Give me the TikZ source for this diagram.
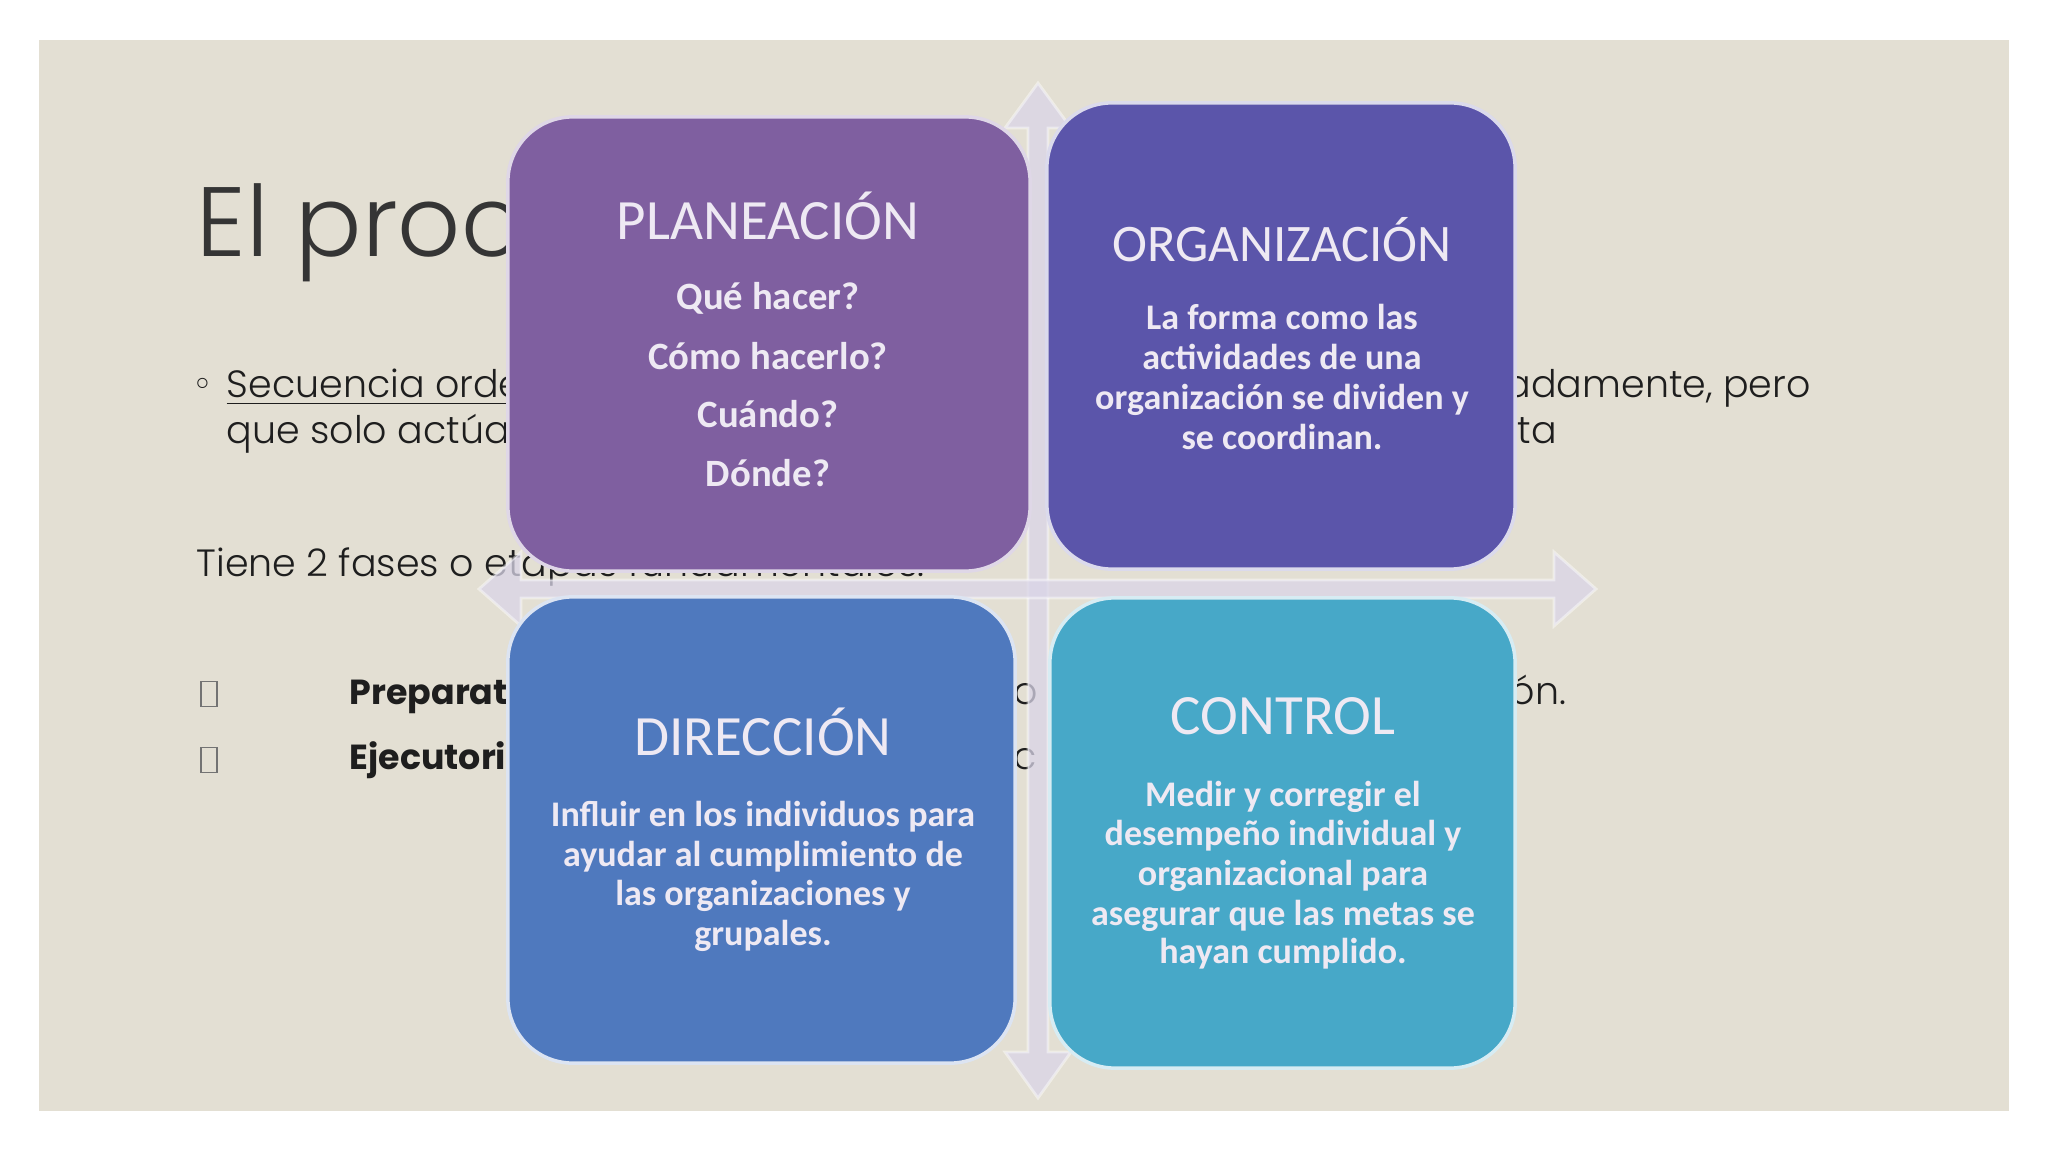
\documentclass[tikz,border=0pt]{standalone}
\usepackage{fontspec}
\usetikzlibrary{calc}
\setmainfont{Poppins}[UprightFont={* Light}, BoldFont={* Bold}]
\newfontfamily\boxfont{Carlito}
\newfontfamily\symfont{DejaVu Sans}
\definecolor{slidebg}{HTML}{E3DFD3}
\definecolor{inktxt}{HTML}{1E1E1E}
\definecolor{planc}{HTML}{7F5FA0}
\definecolor{orgc}{HTML}{5B55AA}
\definecolor{dirc}{HTML}{4F79BE}
\definecolor{ctrc}{HTML}{47A8C8}
\definecolor{boxtxt}{HTML}{EEE9F3}
\definecolor{arrowc}{HTML}{DAD5E8}
\tikzset{
  slidetxt/.style={anchor=base west, inner sep=0pt, text=inktxt, font=\fontsize{10.8}{13}\selectfont},
  slidebold/.style={slidetxt, font=\fontsize{9.9}{12}\selectfont\bfseries},
  titletxt/.style={anchor=base west, inner sep=0pt, text=inktxt!90!white, font=\fontsize{28}{32}\selectfont},
  tofu/.style={draw=black!55, line width=0.4pt, inner sep=0pt, minimum width=0.16cm, minimum height=0.25cm},
  quad/.style={rounded corners=0.65cm, inner sep=0pt, line width=1pt},
  boxhead/.style={anchor=base, inner sep=0pt, text=boxtxt, font=\boxfont\fontsize{16.2}{19}\selectfont},
  boxbody/.style={anchor=base, inner sep=0pt, text=boxtxt, font=\boxfont\bfseries\fontsize{10.25}{12}\selectfont},
  arrowfill/.style={fill=arrowc, fill opacity=0.75, draw=white, draw opacity=0.45, line width=0.8pt}
}
\begin{document}
\begin{tikzpicture}[x=0.01cm,y=-0.01cm]
\useasboundingbox (0,0) rectangle (2048,1152);
\fill[white] (0,0) rectangle (2048,1152);
\fill[slidebg] (39,40) rectangle (2009,1111);

% slide text (behind the diagram)
\node[titletxt] (title) at (196,257) {El proc};
\node[anchor=center, inner sep=0pt, text=inktxt, font=\symfont\fontsize{10}{10}\selectfont] (bul) at (203,387) {◦};
\node[slidetxt] (l1a) at (226,398) {\underline{Secuencia orde}};
\node[slidetxt] (l1b) at (1505,398) {adamente, pero};
\node[slidetxt] (l2a) at (226,444) {que solo actúa};
\node[slidetxt] (l2b) at (1517,444) {ta};
\node[slidetxt] (l3) at (196,577) {Tiene 2 fases o etapas fundamentales.};
\node[tofu] (t1) at (209,694) {};
\node[tofu] (t2) at (209,760) {};
\node[slidebold] (r1) at (349,705) {Preparat};
\node[slidebold] (r2) at (349,769) {Ejecutori};
\node[slidetxt] (r1m) at (1013,705) {o};
\node[slidetxt] (r2m) at (1013,769) {c};
\node[slidetxt] (r1b) at (1510,705) {ón.};

% cross of arrows
\coordinate (vt) at (1038,83);
\coordinate (vb) at (1038,1098);
\coordinate (hl) at (479,589);
\coordinate (hr) at (1596,589);
\fill[arrowfill] (vt) -- ($(vt)+(33,45)$) -- ($(vt)+(10,45)$) -- ($(vb)+(10,-46)$) -- ($(vb)+(33,-46)$)
  -- (vb) -- ($(vb)+(-33,-46)$) -- ($(vb)+(-10,-46)$) -- ($(vt)+(-10,45)$) -- ($(vt)+(-33,45)$) -- cycle;
\draw[arrowfill] (hl) -- ($(hl)+(42,-37)$) -- ($(hl)+(42,-9)$) -- ($(hr)+(-42,-9)$) -- ($(hr)+(-42,-37)$)
  -- (hr) -- ($(hr)+(-42,37)$) -- ($(hr)+(-42,9)$) -- ($(hl)+(42,9)$) -- ($(hl)+(42,37)$) -- cycle;

% quadrants
\node[quad, fill=planc, draw=planc!25!white, minimum width=5.22cm, minimum height=4.54cm] (plan) at (769,344) {};
\node[quad, fill=orgc, draw=orgc!22!white, minimum width=4.68cm, minimum height=4.66cm] (org) at (1281,336) {};
\node[quad, fill=dirc, draw=dirc!20!white, minimum width=5.07cm, minimum height=4.66cm] (dir) at (761.5,830) {};
\node[quad, fill=ctrc, draw=ctrc!22!white, minimum width=4.65cm, minimum height=4.70cm] (ctr) at (1282.5,833) {};

% PLANEACION
\node[boxhead] (planh) at (768,240) {PLANEACIÓN};
\node[boxbody, font=\boxfont\bfseries\fontsize{11}{13}\selectfont] (plan1) at (768,310) {Qué hacer?};
\node[boxbody, font=\boxfont\bfseries\fontsize{11}{13}\selectfont] (plan2) at (768,370) {Cómo hacerlo?};
\node[boxbody, font=\boxfont\bfseries\fontsize{11}{13}\selectfont] (plan3) at (768,428) {Cuándo?};
\node[boxbody, font=\boxfont\bfseries\fontsize{11}{13}\selectfont] (plan4) at (768,487) {Dónde?};

% ORGANIZACION
\node[boxhead, font=\boxfont\fontsize{15}{18}\selectfont] (orgh) at (1282,262) {ORGANIZACIÓN};
\node[boxbody] (org1) at (1282,330) {La forma como las};
\node[boxbody] (org2) at (1282,370) {actividades de una};
\node[boxbody] (org3) at (1282,410) {organización se dividen y};
\node[boxbody] (org4) at (1282,450) {se coordinan.};

% DIRECCION
\node[boxhead] (dirh) at (763,755) {DIRECCIÓN};
\node[boxbody] (dir1) at (763,826) {Influir en los individuos para};
\node[boxbody] (dir2) at (763,866) {ayudar al cumplimiento de};
\node[boxbody] (dir3) at (763,905) {las organizaciones y};
\node[boxbody] (dir4) at (763,945) {grupales.};

% CONTROL
\node[boxhead] (ctrh) at (1283,734) {CONTROL};
\node[boxbody] (ctr1) at (1283,806) {Medir y corregir el};
\node[boxbody] (ctr2) at (1283,845) {desempeño individual y};
\node[boxbody] (ctr3) at (1283,885) {organizacional para};
\node[boxbody] (ctr4) at (1283,925) {asegurar que las metas se};
\node[boxbody] (ctr5) at (1283,963) {hayan cumplido.};
\end{tikzpicture}
\end{document}
